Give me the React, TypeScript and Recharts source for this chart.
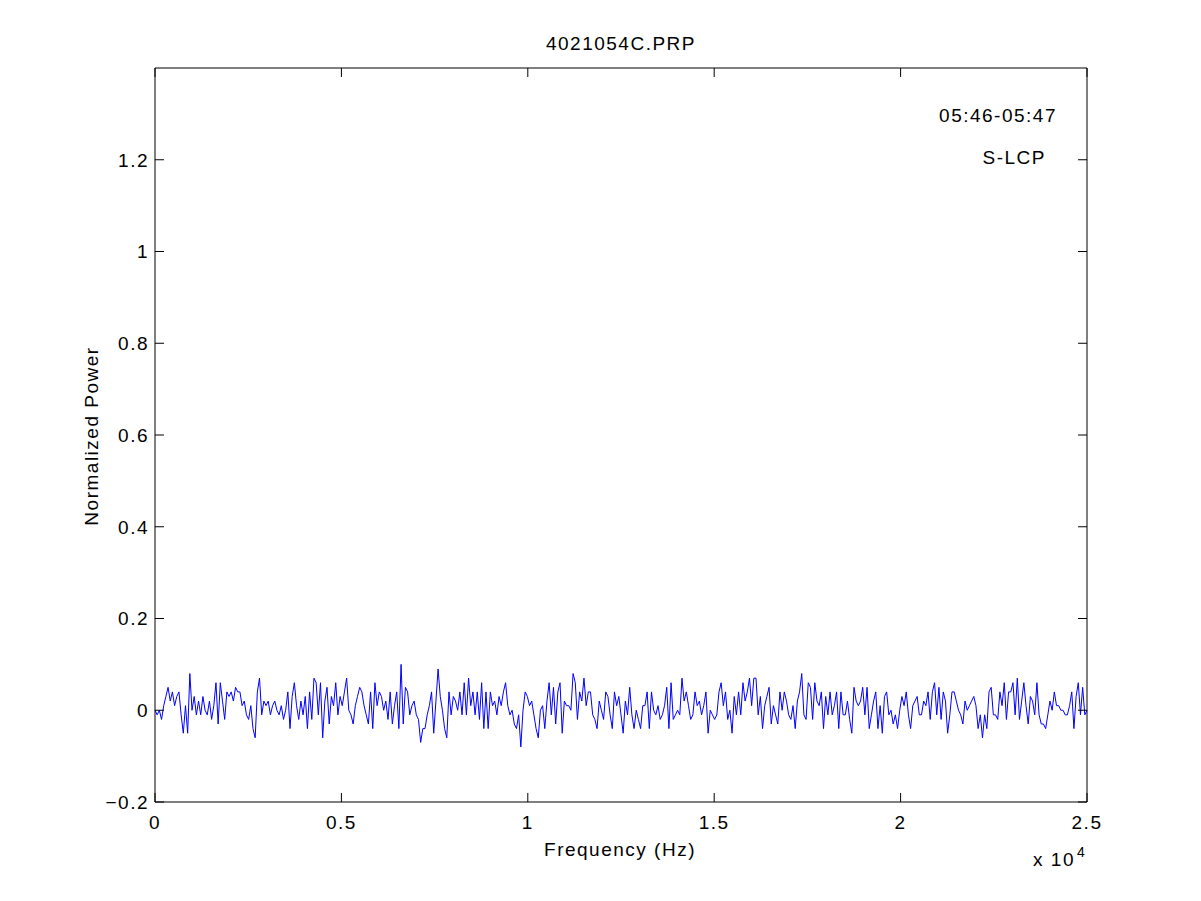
import React from 'react';
import { LineChart, Line, XAxis, YAxis } from 'recharts';

// normalized power, in units of 0.01, left to right
const seg1 = [0, -1, 0, -2, 1, 3, 5, 2, 4, 1, 3, 4, -1, -5, 1, -5, 8, 0, 3, -1, 2, -1, 3, 0, -1, 2, -2, 1, 6, -3, 6, 2, -2, 4, 3, 4, 2, 5, 4, 4, 1, 2, -1, -2, 1, -4, -6, 4, 7, -1, 2, 1, 2, -1, 1, 2, 0, -1, 1, -2, 0, 4, -4, 3, 6, 1, -2, 2, -1, 3, -4, 4, -2, 7, 6, -1, 6, -6, 2, 5, -3, 3, 1];
const seg2 = [6, -1, 3, 1, 4, 7, 0, -1, -3, 1, 3, 5, 4, 1, -1, -3, 4, -4, 6, 1, 4, 3, 0, 2, -2, 4, -3, 1, 4, -4, 10, -3, 5, 4, -1, 1, 2, -1, -2, -7, -4, -4, -1, 1, 4, -5, 2, 9, 3, 0, -4, -6, 4, -1, 3, 2, 0, 4, -1, 6, -1, 7, 1, 4, -1, 4, -2, 6, -4, 4, -4, 4, 1, 2, -1, 3, 1, 4, 6, 1, -1, 0, -3, -4];
const seg3 = [-1, -8, 0, 4, 3, 1, 2, -1, -4, -6, 0, 1, -4, 2, 6, -1, 5, -3, 4, 6, -5, 2, 1, 1, 0, 8, 6, -2, 4, 2, 7, 1, 4, 4, -1, -2, -4, 2, 0, -2, 4, 3, -1, -4, 4, 1, 3, -1, -5, 2, -1, 5, -1, -4, 0, -2, -4, 1, 1, 4, -4, 4, 0, -1, 1, -2, -1, 1, 5, -4, 6, -2, -1, 0, -1, 7, 2, 4, 1, -2, -1, 4, 1, 2, -1, 1];
const seg4 = [4, -5, 0, -1, -2, -1, 4, 6, 1, 4, -2, 0, -5, 3, -1, 4, -1, 6, 2, 4, 7, 1, 7, 7, -1, 3, -4, 1, 3, 5, -3, 1, -1, -3, 4, 0, 4, 2, -1, -2, 1, -4, 2, 4, 8, -1, -2, 6, 5, -2, 6, 2, 1, 4, -4, 3, -1, 4, -1, 1, 4, -4, 4, -1, -1, 2, -2, -5, 5, 2, 1, 2, 5, -1, 5, -4, -1, 2, 4, -4, 1, -5, 3, 4, -1, 0, -3];
const seg5 = [-1, -4, 0, 3, 1, 4, -1, -4, 1, 2, 3, -1, -1, 2, 1, 4, -2, 4, 6, -1, 5, -2, 4, 2, -5, -1, 4, 4, 2, 0, -1, -3, 2, 0, 1, 2, 3, 1, -4, -1, -6, -1, -4, 4, 5, -1, -1, -2, 4, 1, 6, -2, 4, 4, 6, -1, 7, -2, 2, 6, 1, -3, 3, 2, -1, 6, -1, -3, -3, -4, -1, 2, 0, 4, 1, 1, 0, 0, -1, -1, 1, 4, -4, 3, 6, -1, 5, -1, 0];

const powerCenti = [...seg1, ...seg2, ...seg3, ...seg4, ...seg5];
const freqMax = 25000;

const xTicks = [0, 5000, 10000, 15000, 20000, 25000];
const yTicks = [-0.2, 0, 0.2, 0.4, 0.6, 0.8, 1, 1.2];

const data = powerCenti.map((p, i) => ({
  freq: (i * freqMax) / (powerCenti.length - 1),
  power: p / 100,
}));

const font = {
  fontFamily: '"Liberation Sans", Arial, Helvetica, sans-serif',
  fontSize: 19,
  letterSpacing: 1.5,
  fill: '#000',
};

const TICK = 9;

const fmtY = (v: number) => (v < 0 ? '\u2212' + Math.abs(v) : String(v));
const fmtX = (v: number) => String(v / 10000);

const LeftTick = ({ x, y, payload }: any) => (
  <g>
    <line x1={x} y1={y} x2={x + TICK} y2={y} stroke="#000" />
    <text x={x - 6} y={y} dy="0.36em" textAnchor="end" style={font}>
      {fmtY(payload.value)}
    </text>
  </g>
);

const RightTick = ({ x, y }: any) => <line x1={x - TICK} y1={y} x2={x} y2={y} stroke="#000" />;

const BottomTick = ({ x, y, payload }: any) => (
  <g>
    <line x1={x} y1={y} x2={x} y2={y - TICK} stroke="#000" />
    <text x={x} y={y + 27} textAnchor="middle" style={font}>
      {fmtX(payload.value)}
    </text>
  </g>
);

const TopTick = ({ x, y }: any) => <line x1={x} y1={y} x2={x} y2={y + TICK} stroke="#000" />;

const App = () => {
  return (
    <div style={{ position: 'absolute', left: 0, top: 0, width: 1201, height: 901, background: '#fff' }}>
      <LineChart width={1201} height={901} data={data} margin={{ top: 67, right: 0, bottom: 0, left: 0 }}>
        <XAxis
          dataKey="freq"
          type="number"
          domain={[0, freqMax]}
          ticks={xTicks}
          height={99}
          tickSize={0}
          tickMargin={0}
          tickLine={false}
          tick={<BottomTick />}
          stroke="#000"
          interval={0}
        />
        <XAxis
          xAxisId="top"
          dataKey="freq"
          orientation="top"
          type="number"
          domain={[0, freqMax]}
          ticks={xTicks}
          height={1}
          tickSize={0}
          tickMargin={0}
          tickLine={false}
          tick={<TopTick />}
          stroke="#000"
          interval={0}
        />
        <YAxis
          type="number"
          domain={[-0.2, 1.4]}
          ticks={yTicks}
          width={155}
          tickSize={0}
          tickMargin={0}
          tickLine={false}
          tick={<LeftTick />}
          stroke="#000"
          interval={0}
        />
        <YAxis
          yAxisId="right"
          orientation="right"
          type="number"
          domain={[-0.2, 1.4]}
          ticks={yTicks}
          width={114}
          tickSize={0}
          tickMargin={0}
          tickLine={false}
          tick={<RightTick />}
          stroke="#000"
          interval={0}
        />
        {/* invisible copy so the top and right axes get drawn */}
        <Line
          xAxisId="top"
          yAxisId="right"
          type="linear"
          dataKey="power"
          stroke="none"
          dot={false}
          isAnimationActive={false}
        />
        <Line
          type="linear"
          dataKey="power"
          stroke="#0000ff"
          strokeWidth={1}
          dot={false}
          isAnimationActive={false}
        />
      </LineChart>
      <svg width={1201} height={901} style={{ position: 'absolute', left: 0, top: 0, pointerEvents: 'none' }}>
        <text x={621} y={50} textAnchor="middle" style={font}>4021054C.PRP</text>
        <text x={1057} y={122} textAnchor="end" style={font}>05:46-05:47</text>
        <text x={1046} y={164} textAnchor="end" style={font}>S-LCP</text>
        <text x={620} y={856} textAnchor="middle" style={font}>Frequency (Hz)</text>
        <text x={1075} y={866} textAnchor="end" style={font}>x 10</text>
        <text x={1077} y={857} style={{ ...font, fontSize: 14, letterSpacing: 0 }}>4</text>
        <text x={98} y={436} textAnchor="middle" transform="rotate(-90 98 436)" style={font}>
          Normalized Power
        </text>
      </svg>
    </div>
  );
};

export default App;
